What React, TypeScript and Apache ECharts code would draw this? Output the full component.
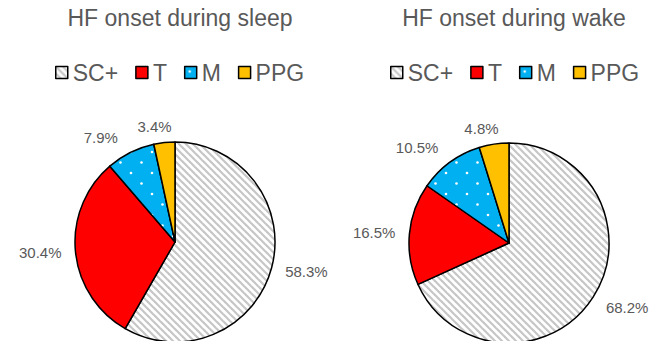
import React, { useEffect, useRef } from "react";
import * as echarts from "echarts";

// Share of heart-failure onsets per sensor group
const categories = ["SC+", "T", "M", "PPG"];
const sleepShares = [58.3, 30.4, 7.9, 3.4];
const wakeShares = [68.2, 16.5, 10.5, 4.8];
const panelTitles = ["HF onset during sleep", "HF onset during wake"];

// Label placement per slice: reach beyond the rim and horizontal nudge
const sleepLabelReach = [14, 14, 17, 16];
const sleepLabelNudge = [0, 0, 5, -9];
const wakeLabelReach = [20, 13, 18, 16];
const wakeLabelNudge = [-4, 1, 1, -7];

const FONT = "'Liberation Sans', Arial, Helvetica, sans-serif";
const TEXT_GREY = "#595959";
const PIE_CENTERS: [number, number][] = [
  [175, 242],
  [509, 243],
];

function hatchFill() {
  const n = 7;
  const c = document.createElement("canvas");
  c.width = n;
  c.height = n;
  const ctx = c.getContext("2d")!;
  ctx.fillStyle = "#ffffff";
  ctx.fillRect(0, 0, n, n);
  ctx.strokeStyle = "#c6c6c6";
  ctx.lineWidth = 2.2;
  for (const k of [-n, 0, n]) {
    ctx.beginPath();
    ctx.moveTo(k - 1, -1);
    ctx.lineTo(k + n + 1, n + 1);
    ctx.stroke();
  }
  return { image: c, repeat: "repeat", imageWidth: n, imageHeight: n };
}

function dottedFill() {
  const n = 21;
  const c = document.createElement("canvas");
  c.width = n;
  c.height = n;
  const ctx = c.getContext("2d")!;
  ctx.fillStyle = "#00B0F0";
  ctx.fillRect(0, 0, n, n);
  ctx.fillStyle = "#ffffff";
  for (const [x, y] of [
    [5, 5],
    [15.5, 15.5],
  ]) {
    ctx.beginPath();
    ctx.arc(x, y, 1.3, 0, Math.PI * 2);
    ctx.fill();
  }
  return { image: c, repeat: "repeat", imageWidth: n, imageHeight: n };
}

export default function App() {
  const ref = useRef<HTMLDivElement>(null);

  useEffect(() => {
    document.body.style.margin = "0";
    if (!ref.current) return;
    const chart = echarts.init(ref.current, undefined, { renderer: "svg" });

    const fills: any[] = [hatchFill(), "#FF0000", dottedFill(), "#FFC000"];

    const makePie = (
      shares: number[],
      center: [number, number],
      reach: number[],
      nudge: number[]
    ) => ({
      type: "pie",
      center,
      radius: 100,
      startAngle: 90,
      clockwise: true,
      avoidLabelOverlap: false,
      itemStyle: { borderColor: "#000000", borderWidth: 1.5 },
      label: {
        show: true,
        position: "outside",
        formatter: (p: any) => `${Number(p.value).toFixed(1)}%`,
        color: TEXT_GREY,
        fontSize: 15,
        fontFamily: FONT,
        distanceToLabelLine: 0,
      },
      labelLine: { show: false },
      emphasis: { disabled: true },
      data: categories.map((name, i) => ({
        name,
        value: shares[i],
        itemStyle: { color: fills[i] },
        labelLine: { show: false, length: reach[i], length2: nudge[i] },
      })),
    });

    const legendBase = {
      top: 56,
      icon: "rect",
      itemWidth: 12,
      itemHeight: 12,
      itemGap: 17,
      selectedMode: false,
      data: categories,
      itemStyle: { borderColor: "#000000", borderWidth: 1.5 },
      textStyle: { color: TEXT_GREY, fontSize: 23, fontFamily: FONT },
    };

    chart.setOption({
      animation: false,
      backgroundColor: "#ffffff",
      title: panelTitles.map((text, i) => ({
        text,
        left: PIE_CENTERS[i][0],
        top: 1,
        textAlign: "center",
        textStyle: {
          color: TEXT_GREY,
          fontSize: 23,
          fontWeight: "normal",
          fontFamily: FONT,
        },
      })),
      legend: [
        { ...legendBase, left: 50 },
        { ...legendBase, left: 385 },
      ],
      series: [
        makePie(sleepShares, PIE_CENTERS[0], sleepLabelReach, sleepLabelNudge),
        makePie(wakeShares, PIE_CENTERS[1], wakeLabelReach, wakeLabelNudge),
      ],
    });

    return () => chart.dispose();
  }, []);

  return <div ref={ref} style={{ width: 652, height: 341 }} />;
}
